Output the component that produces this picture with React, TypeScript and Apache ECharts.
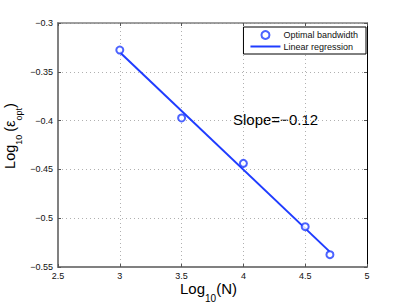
import React, { useEffect, useRef } from "react";
import * as echarts from "echarts";

const logN = [3, 3.5, 4, 4.5, 4.7];
const logEps = [-0.3277, -0.3973, -0.4438, -0.5087, -0.5374];
const regX = [3, 4.7];
const regY = [-0.33, -0.5345];

const BLUE = "#1f3cff";
const FONT = "Liberation Sans, Arial, Helvetica, sans-serif";

const fmt = (v: number) => {
  const s = String(Math.round(v * 1000) / 1000);
  return s.replace("-", "\u2212");
};

const richX = {
  m: { fontSize: 15, color: "#000", fontFamily: FONT, lineHeight: 22, verticalAlign: "top" },
  s: { fontSize: 10, color: "#000", fontFamily: FONT, lineHeight: 8, verticalAlign: "bottom" },
  h: { width: 8, lineHeight: 8 },
};
const richY = {
  m: { fontSize: 14.5, color: "#000", fontFamily: FONT, lineHeight: 21, verticalAlign: "top" },
  s: { fontSize: 9, color: "#000", fontFamily: FONT, lineHeight: 8, verticalAlign: "bottom" },
  g: { width: 18, lineHeight: 8 },
  k: { width: 3, lineHeight: 8 },
};

export default function App() {
  const ref = useRef<HTMLDivElement>(null);
  useEffect(() => {
    document.body.style.margin = "0";
    const chart = echarts.init(ref.current!, null, { renderer: "svg" });
    const gridLine = { show: true, lineStyle: { color: "#b0b0b0", type: [1, 3] as any, width: 1 } };
    chart.setOption({
      animation: false,
      backgroundColor: "#ffffff",
      textStyle: { fontFamily: FONT },
      grid: { left: 58, right: 40, top: 23, bottom: 39, containLabel: false, outerBoundsMode: "none" },
      legend: {
        right: 41,
        top: 27,
        orient: "vertical",
        backgroundColor: "#ffffff",
        borderColor: "#000000",
        borderWidth: 1,
        borderRadius: 0,
        padding: [3, 8, 3, 6],
        itemGap: 2,
        itemWidth: 30,
        itemHeight: 8,
        textStyle: { fontSize: 9, color: "#111", fontFamily: FONT, padding: [0, 0, 0, -2] },
        data: [
          { name: "Optimal bandwidth" },
          { name: "Linear regression", itemStyle: { opacity: 0 } },
        ],
      },
      xAxis: [
        {
          type: "value",
          min: 2.5,
          max: 5,
          interval: 0.5,
          position: "bottom",
          name: "{m|Log}{s|10}{m|(N)}{h| }",
          nameLocation: "middle",
          nameGap: 14,
          nameMoveOverlap: false,
          nameTextStyle: { rich: richX },
          axisLine: { show: true, onZero: false, lineStyle: { color: "#808080", width: 2 } },
          axisTick: { show: true, inside: true, length: 3, lineStyle: { color: "#555" } },
          axisLabel: { fontSize: 9, color: "#111", margin: 4, formatter: fmt },
          splitLine: gridLine,
        },
        {
          type: "value",
          min: 2.5,
          max: 5,
          interval: 0.5,
          position: "top",
          axisLine: { show: true, onZero: false, lineStyle: { color: "#808080", width: 1.5 } },
          axisTick: { show: true, inside: true, length: 3, lineStyle: { color: "#555" } },
          axisLabel: { show: false },
          splitLine: { show: false },
        },
      ],
      yAxis: [
        {
          type: "value",
          min: -0.55,
          max: -0.3,
          interval: 0.05,
          position: "left",
          name: "{g| }{m|Log}{s|10}{k| }{m|(ε}{s|opt}{m|)}",
          nameLocation: "middle",
          nameGap: 35,
          nameMoveOverlap: false,
          nameTextStyle: { rich: richY },
          axisLine: { show: true, onZero: false, lineStyle: { color: "#808080", width: 2 } },
          axisTick: { show: true, inside: true, length: 3, lineStyle: { color: "#555" } },
          axisLabel: { fontSize: 9, color: "#111", margin: 5, formatter: fmt },
          splitLine: gridLine,
        },
        {
          type: "value",
          min: -0.55,
          max: -0.3,
          interval: 0.05,
          position: "right",
          axisLine: { show: true, onZero: false, lineStyle: { color: "#000", width: 1 } },
          axisTick: { show: true, inside: true, length: 3, lineStyle: { color: "#555" } },
          axisLabel: { show: false },
          splitLine: { show: false },
        },
      ],
      graphic: [
        {
          type: "text",
          left: 233,
          top: 112,
          style: { text: "Slope=\u22120.12", fontSize: 15, fill: "#000", fontFamily: FONT },
        },
      ],
      series: [
        {
          name: "Optimal bandwidth",
          type: "scatter",
          symbol: "circle",
          symbolSize: 7,
          itemStyle: { color: "#ffffff", borderColor: BLUE, borderWidth: 2 },
          data: logN.map((x, i) => [x, logEps[i]]),
          z: 3,
        },
        {
          name: "Linear regression",
          type: "line",
          showSymbol: false,
          symbol: "none",
          lineStyle: { color: BLUE, width: 2 },
          itemStyle: { color: BLUE },
          data: regX.map((x, i) => [x, regY[i]]),
          z: 2,
        },
      ],
    });
    return () => chart.dispose();
  }, []);
  return <div ref={ref} style={{ width: 407, height: 306 }} />;
}
